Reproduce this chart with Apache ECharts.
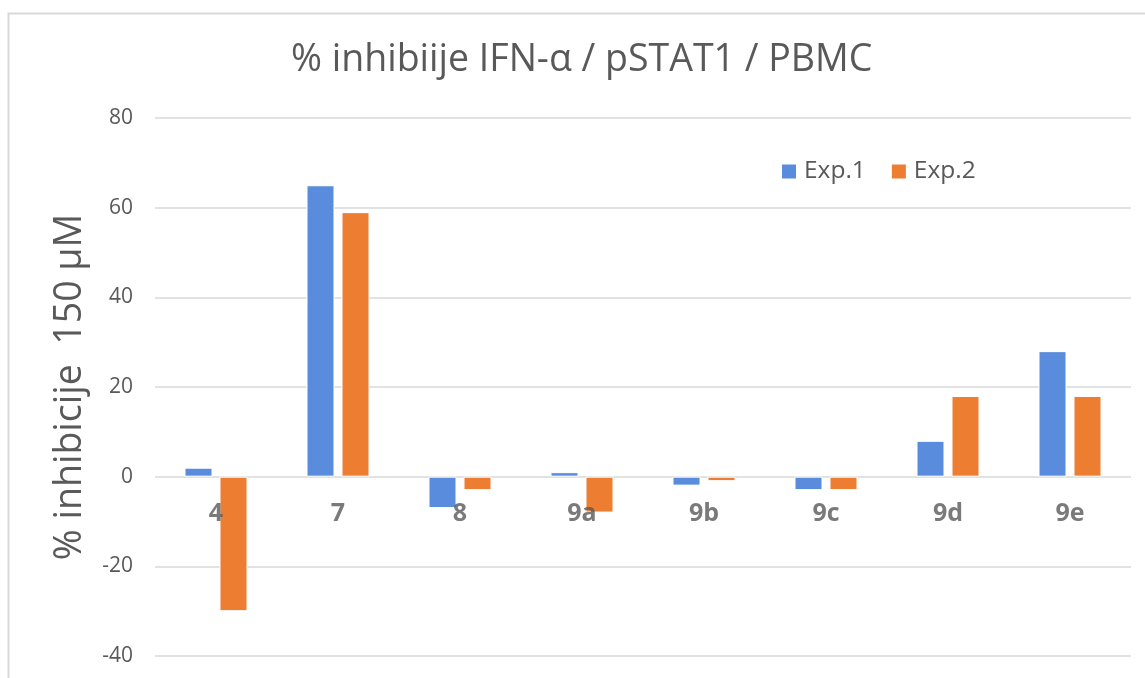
<!DOCTYPE html>
<html>
<head>
<meta charset="utf-8">
<script src="https://cdn.jsdelivr.net/npm/echarts@6/dist/echarts.min.js"></script>
<style>
  html, body { margin: 0; padding: 0; background: #fff; }
  #chart { width: 1145px; height: 678px; }
</style>
</head>
<body>
<div id="chart"></div>
<script>
// Compounds tested and % inhibition at 150 µM for two experiments
const categories = ['4', '7', '8', '9a', '9b', '9c', '9d', '9e'];
const exp1 = [2, 65, -7, 1, -2, -3, 8, 28];
const exp2 = [-30, 59, -3, -8, -1, -3, 18, 18];
const seriesNames = ['Exp.1', 'Exp.2'];
const yTicks = { min: -40, max: 80, interval: 20 };

const FONT = 'Open Sans, Noto Sans, sans-serif';
const TEXT = '#595959';
const GRID = '#D9D9D9';

const chart = echarts.init(document.getElementById('chart'), null, { renderer: 'canvas' });
chart.setOption({
  backgroundColor: '#fff',
  animation: false,
  graphic: [{
    type: 'rect',
    shape: { x: 8.5, y: 13.5, width: 1160, height: 700 },
    style: { fill: 'none', stroke: GRID, lineWidth: 2 },
    silent: true
  }],
  title: {
    text: '% inhibiije IFN-α / pSTAT1 / PBMC',
    left: 291,
    top: 41,
    padding: 0,
    textStyle: { fontFamily: FONT, fontSize: 37.5, fontWeight: 'normal', color: TEXT }
  },
  legend: {
    data: seriesNames,
    top: 159,
    left: 780,
    padding: 0,
    itemWidth: 16,
    itemHeight: 16,
    itemGap: 24,
    icon: 'rect',
    textStyle: { fontFamily: FONT, fontSize: 24.5, color: TEXT, padding: [0, 0, 0, 2] }
  },
  grid: {
    left: 155, right: 14, top: 118, bottom: 22,
    containLabel: false, outerBoundsMode: 'none'
  },
  xAxis: {
    type: 'category',
    data: categories,
    axisLine: { show: false, onZero: true },
    axisTick: { show: false },
    axisLabel: { show: false }
  },
  yAxis: {
    type: 'value',
    min: yTicks.min,
    max: yTicks.max,
    interval: yTicks.interval,
    name: '% inhibicije  150 µM',
    nameLocation: 'middle',
    nameGap: 66,
    nameTextStyle: { fontFamily: FONT, fontSize: 37.5, color: TEXT },
    axisLine: { show: false },
    axisTick: { show: false },
    splitLine: { lineStyle: { color: GRID, width: 1.5 } },
    axisLabel: { fontFamily: FONT, fontSize: 21, color: TEXT, margin: 22 }
  },
  series: [
    {
      name: seriesNames[0], type: 'bar', data: exp1,
      barWidth: 28, barGap: '25%',
      itemStyle: { color: '#5A8CDD', borderColor: '#fff', borderWidth: 1 }
    },
    {
      name: seriesNames[1], type: 'bar', data: exp2,
      barWidth: 28, barGap: '25%',
      itemStyle: { color: '#ED7D31', borderColor: '#fff', borderWidth: 1 }
    },
    {
      // category names sit just under the zero line, above the bars
      name: 'labels', type: 'scatter',
      data: categories.map((c, i) => [i, 0]),
      symbolSize: 1,
      itemStyle: { color: 'transparent' },
      silent: true,
      zlevel: 1,
      z: 10,
      label: {
        show: true,
        position: 'bottom',
        distance: 24,
        formatter: p => categories[p.dataIndex],
        fontFamily: FONT, fontSize: 25, fontWeight: 'bold', color: TEXT
      },
      labelLayout: { hideOverlap: false }
    }
  ]
});
</script>
</body>
</html>
